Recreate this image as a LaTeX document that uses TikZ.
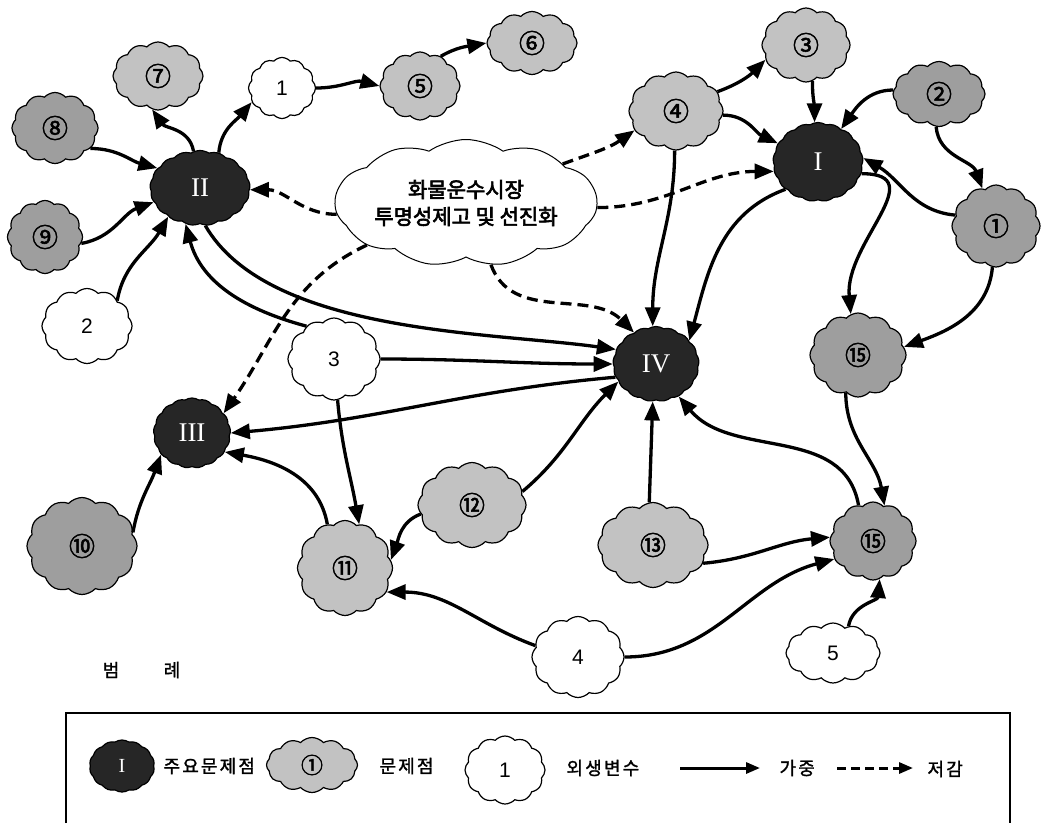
\documentclass[tikz,border=0pt]{standalone}
\usepackage{fontspec}
\usetikzlibrary{shapes.symbols,arrows.meta}
\newfontfamily\kr{Noto Sans CJK KR}
\newfontfamily\krb[FakeBold=3]{Noto Sans CJK KR}
\newfontfamily\krc[FakeBold=2]{Noto Sans CJK KR}
\newfontfamily\krl[FakeBold=1.5,LetterSpace=12]{Noto Sans CJK KR}
\newfontfamily\arialf{Liberation Sans}
\newfontfamily\romanf{Liberation Serif}
\tikzset{
  cl/.style={cloud, cloud puffs=12, cloud puff arc=95, cloud ignores aspect, draw=black, line width=1.2pt, inner sep=0pt},
  dk/.style={cl, cloud puffs=17, cloud puff arc=65, fill=black!85, text=white, font=\romanf\fontsize{27}{27}\selectfont},
  gl/.style={cl, fill=black!24, font=\krc\fontsize{26}{26}\selectfont},
  gd/.style={cl, fill=black!38, font=\krc\fontsize{26}{26}\selectfont},
  wh/.style={cl, fill=white, font=\arialf\fontsize{21}{21}\selectfont},
  ar/.style={line width=3.3pt, -{Triangle[length=19pt,width=15pt]}},
  da/.style={ar, dash pattern=on 11pt off 6pt},
  lgtxt/.style={font=\krl\fontsize{18}{18}\selectfont},
}
\begin{document}
\begin{tikzpicture}[x=1pt,y=1pt]
\useasboundingbox (0,0) rectangle (1043,-823);
% dark (main problems)
\node[dk, minimum width=100pt, minimum height=75pt] (R2) at (200,-188) {II};
\node[dk, minimum width=90pt, minimum height=79pt] (R1) at (818,-162) {I};
\node[dk, minimum width=77pt, minimum height=70pt] (R3) at (192,-433) {III};
\node[dk, minimum width=86pt, minimum height=75pt] (R4) at (656,-364) {IV};
% darker gray problems
\node[gd, minimum width=86pt, minimum height=71pt] (p8) at (55,-128) {⑧};
\node[gd, minimum width=75pt, minimum height=73pt] (p9) at (45,-237) {⑨};
\node[gd, minimum width=92pt, minimum height=65pt] (p2) at (939,-94) {②};
\node[gd, minimum width=88pt, minimum height=82pt] (p1) at (996,-226) {①};
\node[gd, minimum width=110pt, minimum height=97pt] (p10) at (82,-546) {⑩};
\node[gd, minimum width=96pt, minimum height=84pt] (p15a) at (858,-355) {⑮};
\node[gd, minimum width=86pt, minimum height=78pt] (p15b) at (873,-541) {⑮};
% lighter gray problems
\node[gl, minimum width=90pt, minimum height=68pt] (p7) at (158,-76) {⑦};
\node[gl, minimum width=80pt, minimum height=68pt] (p5) at (420,-86) {⑤};
\node[gl, minimum width=90pt, minimum height=63pt] (p6) at (532,-43) {⑥};
\node[gl, minimum width=94pt, minimum height=78pt] (p4) at (676,-111) {④};
\node[gl, minimum width=88pt, minimum height=74pt] (p3) at (806,-45) {③};
\node[gl, minimum width=108pt, minimum height=85pt] (p12) at (472,-505) {⑫};
\node[gl, minimum width=110pt, minimum height=85pt] (p13) at (653,-545) {⑬};
\node[gl, minimum width=95pt, minimum height=95pt] (p11) at (345,-568) {⑪};
% exogenous
\node[wh, minimum width=67pt, minimum height=61pt] (e1) at (282,-88) {1};
\node[wh, minimum width=90pt, minimum height=75pt] (e2) at (87,-326) {2};
\node[wh, minimum width=92pt, minimum height=82pt] (e3) at (334,-359) {3};
\node[wh, minimum width=92pt, minimum height=81pt] (e4) at (578,-657) {4};
\node[wh, minimum width=94pt, minimum height=60pt] (e5) at (833,-653) {5};
% central
\node[cl, cloud puffs=11, cloud puff arc=70, fill=white, line width=1pt, minimum width=262pt, minimum height=127pt, align=center, font=\krb\fontsize{21}{27}\selectfont] (C) at (466,-203) {화물운수시장\\투명성제고 및 선진화};

% solid arrows
\draw[ar] (R2.100) to[out=100,in=-55] (p7.-100);
\draw[ar] (R2.62) to[out=85,in=-130] (e1.-155);
\draw[ar] (e1.east) to[out=0,in=165] (p5.west);
\draw[ar] (p5.55) to[out=30,in=190] (p6.west);
\draw[ar] (p8.-30) to[out=0,in=165] (R2.155);
\draw[ar] (p9.-10) to[out=10,in=200] (R2.197);
\draw[ar] (e2.40) to[out=80,in=240] (R2.222);
\draw[ar] (e3.130) to[out=165,in=-75] (R2.-112);
\draw[ar] (R2.-82) to[out=-60,in=172,looseness=0.75] (R4.160);
\draw[ar] (e3.east) to[out=0,in=180] (R4.180);
\draw[ar] (R4.198) to[out=185,in=5] (R3.east);
\draw[ar] (e3.-85) to[out=-85,in=100] (p11.72);
\draw[ar] (p11.112) to[out=100,in=-10] (R3.-30);
\draw[ar] (p10.15) to[out=80,in=-110] (R3.-145);
\draw[ar] (p12.190) to[out=200,in=70] (p11.10);
\draw[ar] (p12.15) to[out=40,in=225] (R4.205);
\draw[ar] (e4.165) to[out=160,in=0] (p11.-30);
\draw[ar] (e4.east) to[out=0,in=195] (p15b.205);
\draw[ar] (p13.95) -- (R4.-95);
\draw[ar] (p13.-20) to[out=5,in=185] (p15b.175);
\draw[ar] (p15b.112) to[out=100,in=-50] (R4.-55);
\draw[ar] (e5.60) to[out=80,in=-95] (p15b.-80);
\draw[ar] (p15a.-108) to[out=-90,in=100] (p15b.72);
\draw[ar] (p1.-95) to[out=-95,in=20] (p15a.10);
\draw[ar] (R1.-15) to[out=0,in=95,looseness=1.3] (p15a.100);
\draw[ar] (R1.-140) to[out=200,in=75] (R4.35);
\draw[ar] (p4.-92) to[out=-90,in=90] (R4.95);
\draw[ar] (p4.25) to[out=20,in=225] (p3.200);
\draw[ar] (p4.-5) to[out=0,in=155] (R1.155);
\draw[ar] (p3.-80) to[out=-90,in=90] (R1.95);
\draw[ar] (p2.175) to[out=180,in=55] (R1.55);
\draw[ar] (p2.-95) to[out=-85,in=110] (p1.110);
\draw[ar] (p1.165) to[out=175,in=-30] (R1.5);
% dashed arrows
\draw[da] (C.185) to[out=180,in=0] (R2.-2);
\draw[da] (C.22) to[out=20,in=215] (p4.205);
\draw[da] (C.-2) to[out=0,in=180] (R1.192);
\draw[da] (C.-68) to[out=-70,in=135] (R4.125);
\draw[da] (C.203) to[out=205,in=55] (R3.32);

% legend
\node[lgtxt] (lgA) at (111,-670) {범};
\node[lgtxt] (lgB) at (172,-670) {례};
\draw[line width=1.2pt] (66,-823) -- (66,-713) -- (1010,-713) -- (1010,-823);
\node[dk, minimum width=65pt, minimum height=52pt, cloud puffs=14, font=\romanf\fontsize{20}{20}\selectfont] (L1) at (122,-766) {I};
\node[lgtxt, anchor=west] (L1t) at (160,-766) {주요문제점};
\node[gl, minimum width=91pt, minimum height=55pt, font=\krc\fontsize{22}{22}\selectfont] (L2) at (312,-765) {①};
\node[lgtxt, anchor=west] (L2t) at (376,-766) {문제점};
\node[wh, minimum width=80pt, minimum height=68pt] (L3) at (505,-770) {1};
\node[lgtxt, anchor=west] (L3t) at (563,-768) {외생변수};
\coordinate (la1) at (680,-768);
\coordinate (la2) at (760,-768);
\draw[line width=3pt, -{Triangle[length=14pt,width=11pt]}] (la1) -- (la2);
\node[lgtxt, anchor=west] (L4t) at (776,-768) {가중};
\coordinate (lb1) at (837,-768);
\coordinate (lb2) at (913,-768);
\draw[line width=3pt, dash pattern=on 9pt off 5pt, -{Triangle[length=14pt,width=11pt]}] (lb1) -- (lb2);
\node[lgtxt, anchor=west] (L5t) at (924,-769) {저감};
\end{tikzpicture}
\end{document}
